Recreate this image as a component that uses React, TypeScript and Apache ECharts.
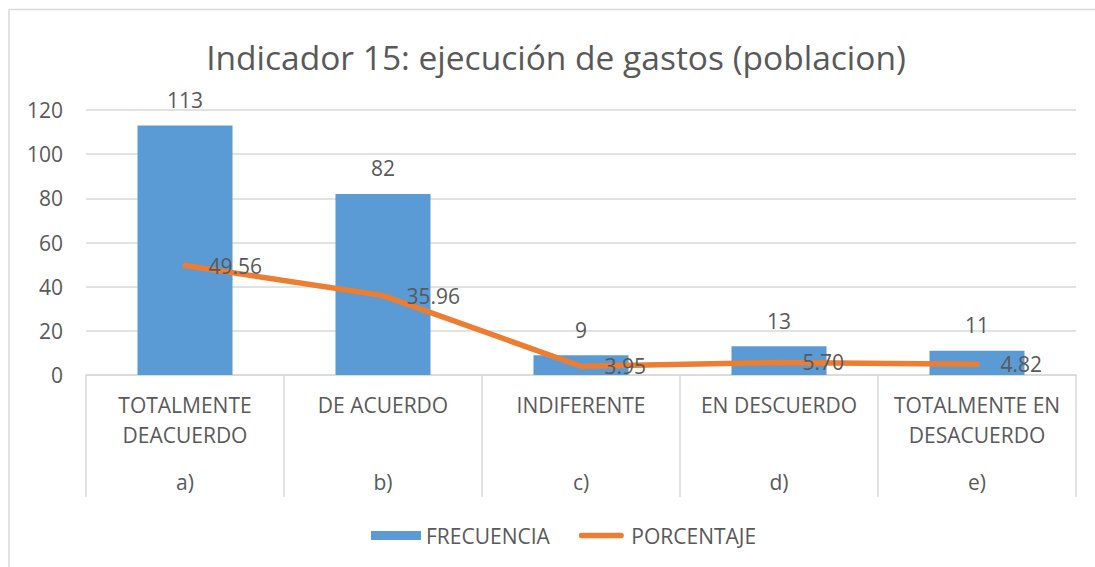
import React, { useEffect, useRef } from "react";
import * as echarts from "echarts";

const categories = [
  "TOTALMENTE\nDEACUERDO",
  "DE ACUERDO",
  "INDIFERENTE",
  "EN DESCUERDO",
  "TOTALMENTE EN\nDESACUERDO",
];
const subCategories = ["a)", "b)", "c)", "d)", "e)"];
const frecuencia = [113, 82, 9, 13, 11];
const porcentaje = [49.56, 35.96, 3.95, 5.7, 4.82];
const yTicks = { min: 0, max: 120, interval: 20 };

const FONT = "'Open Sans', 'Liberation Sans', sans-serif";
const TXT = "#595959";
const GRIDC = "#d9d9d9";
const LINE_ICON = "path://M0,0M50,10M3,2L47,2A3,3,0,0,1,47,8L3,8A3,3,0,0,1,3,2Z";

export default function App() {
  const ref = useRef<HTMLDivElement>(null);
  useEffect(() => {
    if (!ref.current) return;
    const chart = echarts.init(ref.current, null, { renderer: "svg" });
    chart.setOption({
      animation: false,
      backgroundColor: "#ffffff",
      textStyle: { fontFamily: FONT },
      graphic: [
        {
          type: "rect",
          shape: { x: 9, y: 9.5, width: 1300, height: 800 },
          style: { fill: "none", stroke: GRIDC, lineWidth: 1.5 },
          silent: true,
          z: -10,
        },
        {
          type: "text",
          x: 556,
          y: 57,
          style: {
            text: "Indicador 15: ejecución de gastos (poblacion)",
            fontSize: 33.5,
            fontFamily: FONT,
            fill: TXT,
            textAlign: "center",
            textVerticalAlign: "middle",
          },
        },
      ],
      grid: { left: 86, right: 19, top: 110, bottom: 192, containLabel: false, outerBoundsMode: "none" },
      legend: {
        left: 366,
        top: 520,
        itemWidth: 50,
        itemHeight: 9,
        itemGap: 29,
        textStyle: { fontSize: 21, color: TXT, fontFamily: FONT },
        data: [
          { name: "FRECUENCIA", icon: "rect" },
          { name: "PORCENTAJE", icon: LINE_ICON, itemStyle: { color: "#ED7D31" } },
        ],
      },
      xAxis: [
        {
          type: "category",
          data: categories,
          position: "bottom",
          axisLine: { show: true, lineStyle: { color: GRIDC, width: 1.5 } },
          axisTick: { show: true, length: 122, interval: 0, alignWithLabel: false, lineStyle: { color: GRIDC, width: 1.5 } },
          axisLabel: { interval: 0, margin: 15, fontSize: 21, lineHeight: 30, color: TXT, fontFamily: FONT },
        },
        {
          type: "category",
          data: subCategories,
          position: "bottom",
          offset: 76,
          axisLine: { show: false },
          axisTick: { show: false },
          axisLabel: { interval: 0, margin: 16, fontSize: 21, lineHeight: 30, color: TXT, fontFamily: FONT },
        },
      ],
      yAxis: {
        type: "value",
        min: yTicks.min,
        max: yTicks.max,
        interval: yTicks.interval,
        axisLine: { show: false },
        axisTick: { show: false },
        splitLine: { lineStyle: { color: GRIDC, width: 1.5 } },
        axisLabel: { margin: 23, fontSize: 21, color: TXT, fontFamily: FONT },
      },
      series: [
        {
          name: "FRECUENCIA",
          type: "bar",
          xAxisIndex: 0,
          data: frecuencia,
          barWidth: "48%",
          itemStyle: { color: "#5B9BD5" },
          label: { show: true, position: "top", distance: 15, fontSize: 21, color: TXT, fontFamily: FONT },
        },
        {
          name: "PORCENTAJE",
          type: "line",
          xAxisIndex: 0,
          data: porcentaje,
          symbol: "circle",
          symbolSize: 1,
          itemStyle: { color: "#ED7D31" },
          lineStyle: { color: "#ED7D31", width: 5.5, cap: "round", join: "round" },
          label: {
            show: true,
            position: "right",
            distance: 23,
            fontSize: 21,
            color: TXT,
            fontFamily: FONT,
            formatter: (p: any) => Number(p.value).toFixed(2),
          },
        },
      ],
    });
    return () => chart.dispose();
  }, []);
  return (
    <div
      ref={ref}
      style={{ position: "fixed", left: 0, top: 0, width: 1095, height: 567 }}
    />
  );
}
